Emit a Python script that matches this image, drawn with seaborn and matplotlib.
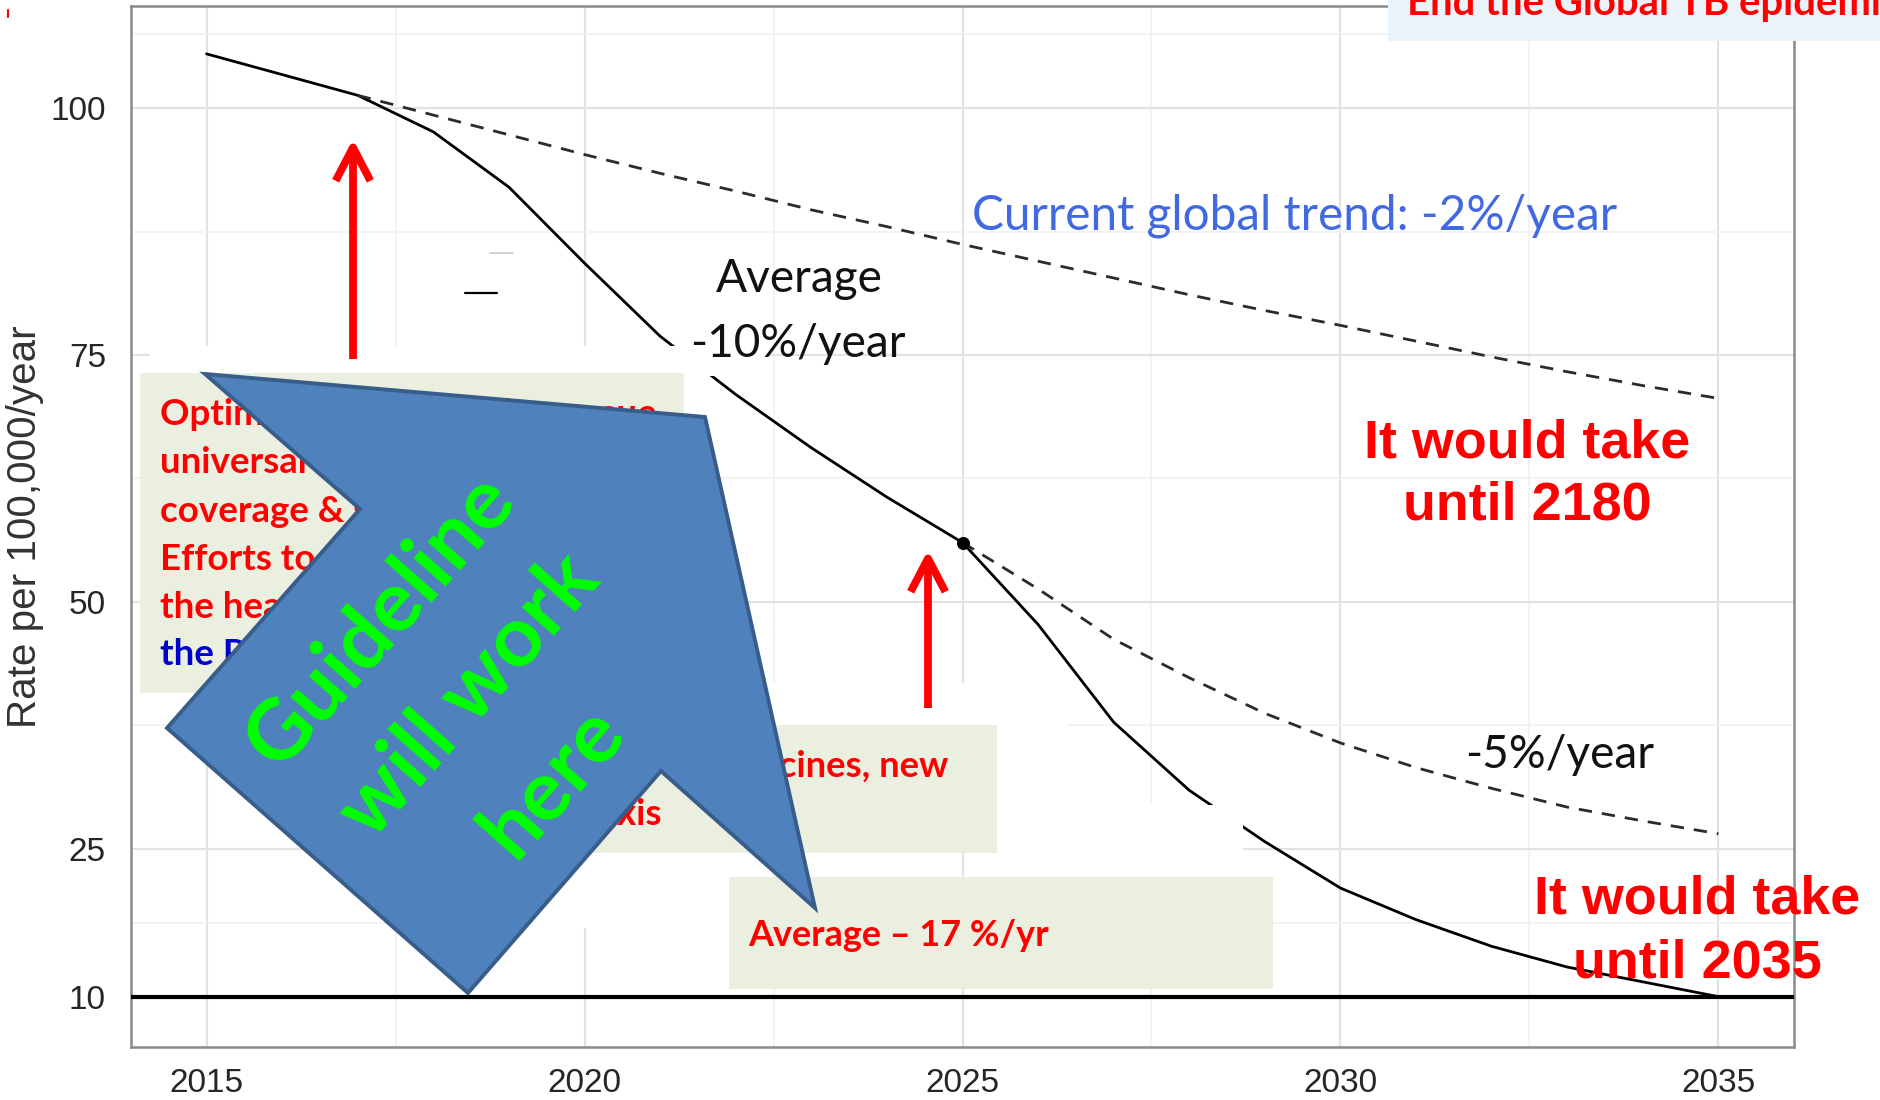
import matplotlib
matplotlib.use("Agg")
import matplotlib.pyplot as plt
import seaborn as sns
from matplotlib.patches import Polygon, Rectangle, FancyArrowPatch

# ---- data -------------------------------------------------------------
years = list(range(2015, 2036))
rate_scenario = [105.5, 103.4, 101.3, 97.6, 92.0, 84.3, 76.9, 71.0, 65.6, 60.6,
                 56.0, 47.7, 37.8, 30.9, 25.7, 21.0, 17.8, 15.1, 13.0, 11.5, 10.0]

trend_years = list(range(2017, 2036))
rate_trend = [101.3, 99.3, 97.3, 95.3, 93.4, 91.6, 89.7, 88.0, 86.2, 84.5,
              82.8, 81.1, 79.5, 78.0, 76.4, 74.8, 73.3, 71.9, 70.6]

five_years = list(range(2025, 2036))
rate_five = [56.0, 51.3, 46.2, 42.3, 38.7, 35.7, 33.2, 31.1, 29.2, 27.8, 26.5]

milestone_year = [2025]
milestone_rate = [56.0]
target_rate = 10

x_ticks = [2015, 2020, 2025, 2030, 2035]
y_ticks = [10, 25, 50, 75, 100]
x_minor = [2017.5, 2022.5, 2027.5, 2032.5]
y_minor = [17.5, 37.5, 62.5, 87.5, 107.5]

# ---- style ------------------------------------------------------------
sns.set_style("white")
plt.rcParams["font.family"] = ["Liberation Sans", "DejaVu Sans"]
SLIDE = ["Lato", "DejaVu Sans"]
ARIAL = ["Liberation Sans", "DejaVu Sans"]

W, H = 1881, 1100
fig = plt.figure(figsize=(W / 100, H / 100), dpi=100)
fig.patch.set_facecolor("white")
ax = fig.add_axes([131 / W, 1 - 1047 / H, (1794 - 131) / W, (1047 - 6) / H])

# ---- chart ------------------------------------------------------------
sns.lineplot(x=years, y=rate_scenario, ax=ax, color="black", lw=2.0, zorder=3)
sns.lineplot(x=trend_years, y=rate_trend, ax=ax, color="#2b2b2b", lw=2.0,
             linestyle=(0, (4.8, 3.6)), zorder=3)
sns.lineplot(x=five_years, y=rate_five, ax=ax, color="#2b2b2b", lw=2.0,
             linestyle=(0, (4.8, 3.6)), zorder=3)
sns.scatterplot(x=milestone_year, y=milestone_rate, ax=ax, color="black",
                s=75, edgecolor="black", zorder=4)
ax.axhline(target_rate, color="black", lw=3.0, zorder=3)

ax.set_xlim(2014, 2036)
ax.set_ylim(4.9, 110.35)
ax.set_xticks(x_ticks)
ax.set_yticks(y_ticks)
ax.set_xticks(x_minor, minor=True)
ax.set_yticks(y_minor, minor=True)
ax.set_axisbelow(True)
ax.grid(which="major", color="#e2e2e2", lw=1.5)
ax.grid(which="minor", color="#f0f0f0", lw=1.1)
ax.tick_params(which="major", length=12, width=2.2, color="#2a2a2a",
               labelsize=24, labelcolor="#262626")
ax.tick_params(axis="y", pad=6)
ax.tick_params(axis="x", pad=3)
ax.tick_params(which="minor", length=0)
for sp in ax.spines.values():
    sp.set_visible(True)
    sp.set_color("#8a8a8a")
    sp.set_linewidth(1.8)
ax.set_xlabel("")

# ---- slide overlay (pixel coordinates, y downwards) --------------------
ov = fig.add_axes([0, 0, 1, 1], zorder=10)
ov.set_xlim(0, W)
ov.set_ylim(H, 0)
ov.axis("off")
ov.patch.set_alpha(0)

renderer = fig.canvas.get_renderer()


def size_for(label, target_px, **props):
    probe = ov.text(0, 0, label, fontsize=20, **props)
    width = probe.get_window_extent(renderer=renderer).width
    probe.remove()
    return 20 * target_px / width


ylabel_size = size_for("Rate per 100,000/year", 402, family=ARIAL)
ax.set_ylabel("Rate per 100,000/year", fontsize=ylabel_size, color="#333333")
ax.yaxis.set_label_coords(-0.0523, 0.5)

# white cover-ups
for (x0, y0, x1, y1) in [(150, 346, 767, 376), (996, 805, 1243, 877),
                         (700, 683, 1067, 812), (520, 853, 729, 928)]:
    ov.add_patch(Rectangle((x0, y0), x1 - x0, y1 - y0, fc="white", ec="none", zorder=1))

# shaded note boxes
BOX = "#EBEFE0"
for (x0, y0, x1, y1) in [(140, 373, 684, 693), (420, 725, 997, 853), (729, 877, 1273, 989)]:
    ov.add_patch(Rectangle((x0, y0), x1 - x0, y1 - y0, fc=BOX, ec="none", zorder=2))

bold_slide = dict(family=SLIDE, fontweight="bold")
fs_box = size_for("coverage &", 184, **bold_slide)
box1_lines = ["Optimize current tools, pursue", "universal health",
              "coverage & social protection", "Efforts to reach",
              "the hearts and minds of", "the Poor"]
box1_base = [425, 473, 522, 570, 618, 665]
for i, (line, yb) in enumerate(zip(box1_lines, box1_base)):
    ov.text(160, yb, line, fontsize=fs_box, color="#0000CC" if i == 5 else "red",
            ha="left", va="baseline", zorder=3, **bold_slide)

fs_box2 = size_for("cines, new", 170, **bold_slide)
ov.text(948, 777, "New tools: vaccines, new", fontsize=fs_box2, color="red",
        ha="right", va="baseline", zorder=3, **bold_slide)
ov.text(662, 825, "drugs, prophylaxis", fontsize=fs_box2, color="red",
        ha="right", va="baseline", zorder=3, **bold_slide)

fs_box3 = size_for("Average \u2013 17 %/yr", 300, **bold_slide)
ov.text(748, 946, "Average \u2013 17 %/yr", fontsize=fs_box3, color="red",
        ha="left", va="baseline", zorder=3, **bold_slide)

# big block arrow
ov.add_patch(Polygon([(205, 374), (705, 417), (815, 908), (661, 771),
                      (468, 993), (167, 728), (360, 509)], closed=True,
                     fc="#4F81BD", ec="#385D8A", lw=2.8, joinstyle="miter", zorder=4))
fs_green = size_for("Guideline", 362, **bold_slide)
for line, (cx, cy) in zip(["Guideline", "will work", "here"],
                          [(380, 620), (468, 695), (553, 781)]):
    ov.text(cx, cy, line, fontsize=fs_green, color="#00FF00", rotation=48.5,
            rotation_mode="anchor", ha="center", va="center", zorder=5, **bold_slide)

# red pointers
for (x, y_tail, y_tip) in [(353, 359, 139), (928, 708, 550)]:
    ov.add_patch(FancyArrowPatch((x, y_tail), (x, y_tip),
                                 arrowstyle="->,head_length=24,head_width=12.5",
                                 mutation_scale=1, color="red", lw=5.6,
                                 shrinkA=0, shrinkB=0, joinstyle="round",
                                 capstyle="butt", zorder=6))

# annotations on the curves
fs_blue = size_for("Current global trend: -2%/year", 648, family=SLIDE)
ov.text(972, 230, "Current global trend: -2%/year", fontsize=fs_blue,
        color="#4169E1", ha="left", va="baseline", zorder=6, family=SLIDE)
fs_avg = size_for("-10%/year", 216, family=SLIDE)
ov.text(716, 292, "Average", fontsize=fs_avg, color="#111111",
        ha="left", va="baseline", zorder=6, family=SLIDE)
ov.text(690, 357, "-10%/year", fontsize=fs_avg, color="#111111",
        ha="left", va="baseline", zorder=6, family=SLIDE)
fs_five = size_for("-5%/year", 189, family=SLIDE)
ov.text(1465, 768, "-5%/year", fontsize=fs_five, color="#111111",
        ha="left", va="baseline", zorder=6, family=SLIDE)

bold_arial = dict(family=ARIAL, fontweight="bold")
fs_take = size_for("It would take", 326, **bold_arial)
for (cx, y1, y2, yr) in [(1527, 457, 520, "until 2180"), (1697, 913, 977, "until 2035")]:
    ov.text(cx, y1, "It would take", fontsize=fs_take, color="red",
            ha="center", va="baseline", zorder=6, **bold_arial)
    ov.text(cx, y2, yr, fontsize=fs_take, color="red",
            ha="center", va="baseline", zorder=6, **bold_arial)

# header banner
ov.add_patch(Rectangle((1388, 0), W - 1388, 41, fc="#EAF3FA", ec="none", zorder=6))
fs_title = size_for("End the Global TB epidemi", 474, **bold_slide)
ov.text(1407, 15, "End the Global TB epidemic", fontsize=fs_title, color="red",
        ha="left", va="baseline", zorder=7, **bold_slide)

# leftover slide marks
ov.plot([465, 497], [293, 293], color="black", lw=1.6, zorder=6)
ov.plot([490, 513], [253, 253], color="#c8c8c8", lw=1.2, zorder=6)
ov.plot([8, 8], [10, 17], color="red", lw=1.5, zorder=6)

fig.savefig("out.png", dpi=100)
